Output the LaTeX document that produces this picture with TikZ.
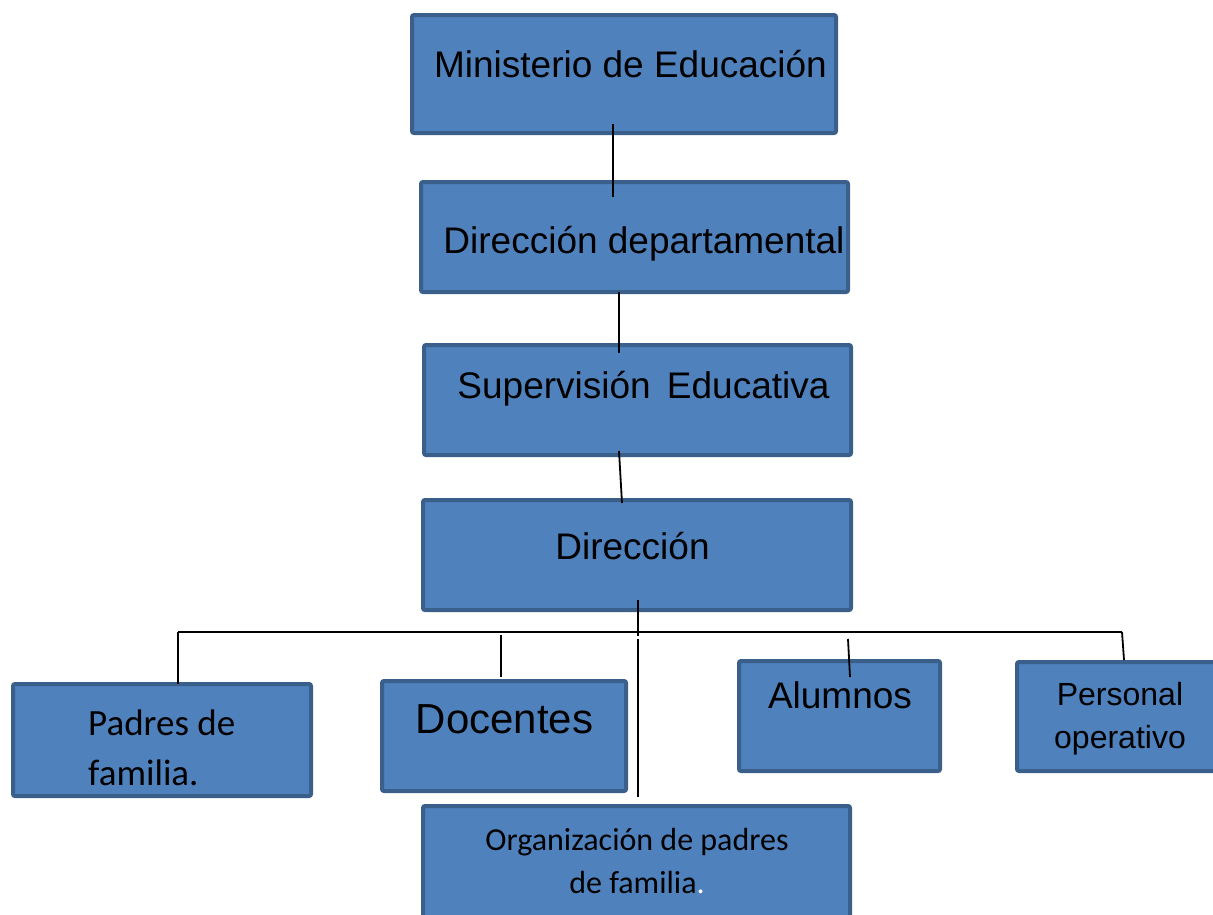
\documentclass[tikz,border=0pt]{standalone}
\usepackage{fontspec}
\setmainfont{Liberation Sans}
\newfontfamily\calib{Carlito}
\usepackage{xcolor}
\usepackage{tikz}
\usetikzlibrary{calc}
\definecolor{boxblue}{HTML}{4F81BD}
\definecolor{boxedge}{HTML}{3A5F8B}
\tikzset{
  orgbox/.style = {rectangle, fill=boxblue, draw=boxedge, line width=4,
    rounded corners=2, inner sep=0, outer sep=0},
  orgtxt/.style = {anchor=base, inner sep=0, text=black},
  link/.style = {line width=1.8, black},
}

\begin{document}
\begin{tikzpicture}[x=1pt,y=-1pt]
			\useasboundingbox (0,0) rectangle (1213,914);
			\clip (0,0) rectangle (1213,914);

			% cajas
			\node[orgbox, minimum width=424, minimum height=118] (min) at (624,74) {};
			\node[orgbox, minimum width=427, minimum height=110] (dep) at (634.5,237) {};
			\node[orgbox, minimum width=427, minimum height=110] (sup) at (637.5,400) {};
			\node[orgbox, minimum width=428, minimum height=110] (dir) at (637,555) {};
			\node[orgbox, minimum width=298, minimum height=112] (pad) at (162,740) {};
			\node[orgbox, minimum width=244, minimum height=110] (doc) at (504,736) {};
			\node[orgbox, minimum width=201, minimum height=110] (alu) at (839.5,716) {};
			\node[orgbox, minimum width=206, minimum height=109] (per) at (1120,716.5) {};
			\node[orgbox, minimum width=427, minimum height=122] (org) at (636.5,867) {};

			% textos
			\node[orgtxt, font=\fontsize{37}{44}\selectfont] (minT) at (630.5,77) {Ministerio de Educación};
			\node[orgtxt, font=\fontsize{37}{44}\selectfont] (depT) at (644,253) {Dirección departamental};
			\node[orgtxt, font=\fontsize{37}{44}\selectfont] (supT) at (643.5,398) {Supervisión\hspace{6pt} Educativa};
			\node[orgtxt, font=\fontsize{37}{44}\selectfont] (dirT) at (632.5,559) {Dirección};
			\node[orgtxt, anchor=base west, align=left, font=\calib\fontsize{37}{50}\selectfont] (padT) at (88,785) {Padres de\\familia.};
			\node[orgtxt, font=\fontsize{42}{50}\selectfont] (docT) at (504.5,733) {Docentes};
			\node[orgtxt, font=\fontsize{37}{44}\selectfont] (aluT) at (840,708) {Alumnos};
			\node[orgtxt, align=center, font=\fontsize{32}{43}\selectfont] (perT) at (1120,748) {Personal\\operativo};
			\node[orgtxt, align=center, font=\calib\fontsize{32}{43}\selectfont] (orgT) at (637,893) {Organización de padres\\de familia\textcolor{white}{.}};

			% lineas
			\coordinate (barL) at (178,632);
			\coordinate (barR) at (1122,632);
			\coordinate (stem) at (638,636);

			\draw[link] ([shift={(-11,-9)}]min.south) -- ([shift={(-21.5,15)}]dep.north);
			\draw[link] ([shift={(-15.5,0)}]dep.south) -- ([shift={(-18.5,8)}]sup.north);
			\draw[link] ([shift={(-18.5,-4)}]sup.south) -- ([shift={(-15,3)}]dir.north);
			\draw[link] ([shift={(1,-10)}]dir.south) -- (stem);
			\draw[link] (barL) -- (barR);
			\draw[link] (barL) -- (barL |- pad.north);
			\draw[link] ([shift={(-3,-46)}]doc.north) -- ([shift={(-3,-4)}]doc.north);
			\draw[link] ([shift={(1.5,-167)}]org.north) -- ([shift={(1.5,-9)}]org.north);
			\draw[link] ([shift={(8.5,-22)}]alu.north) -- ([shift={(10.5,16)}]alu.north);
			\draw[link] (barR) -- ([shift={(4,-2)}]per.north);
		\end{tikzpicture}
\end{document}
